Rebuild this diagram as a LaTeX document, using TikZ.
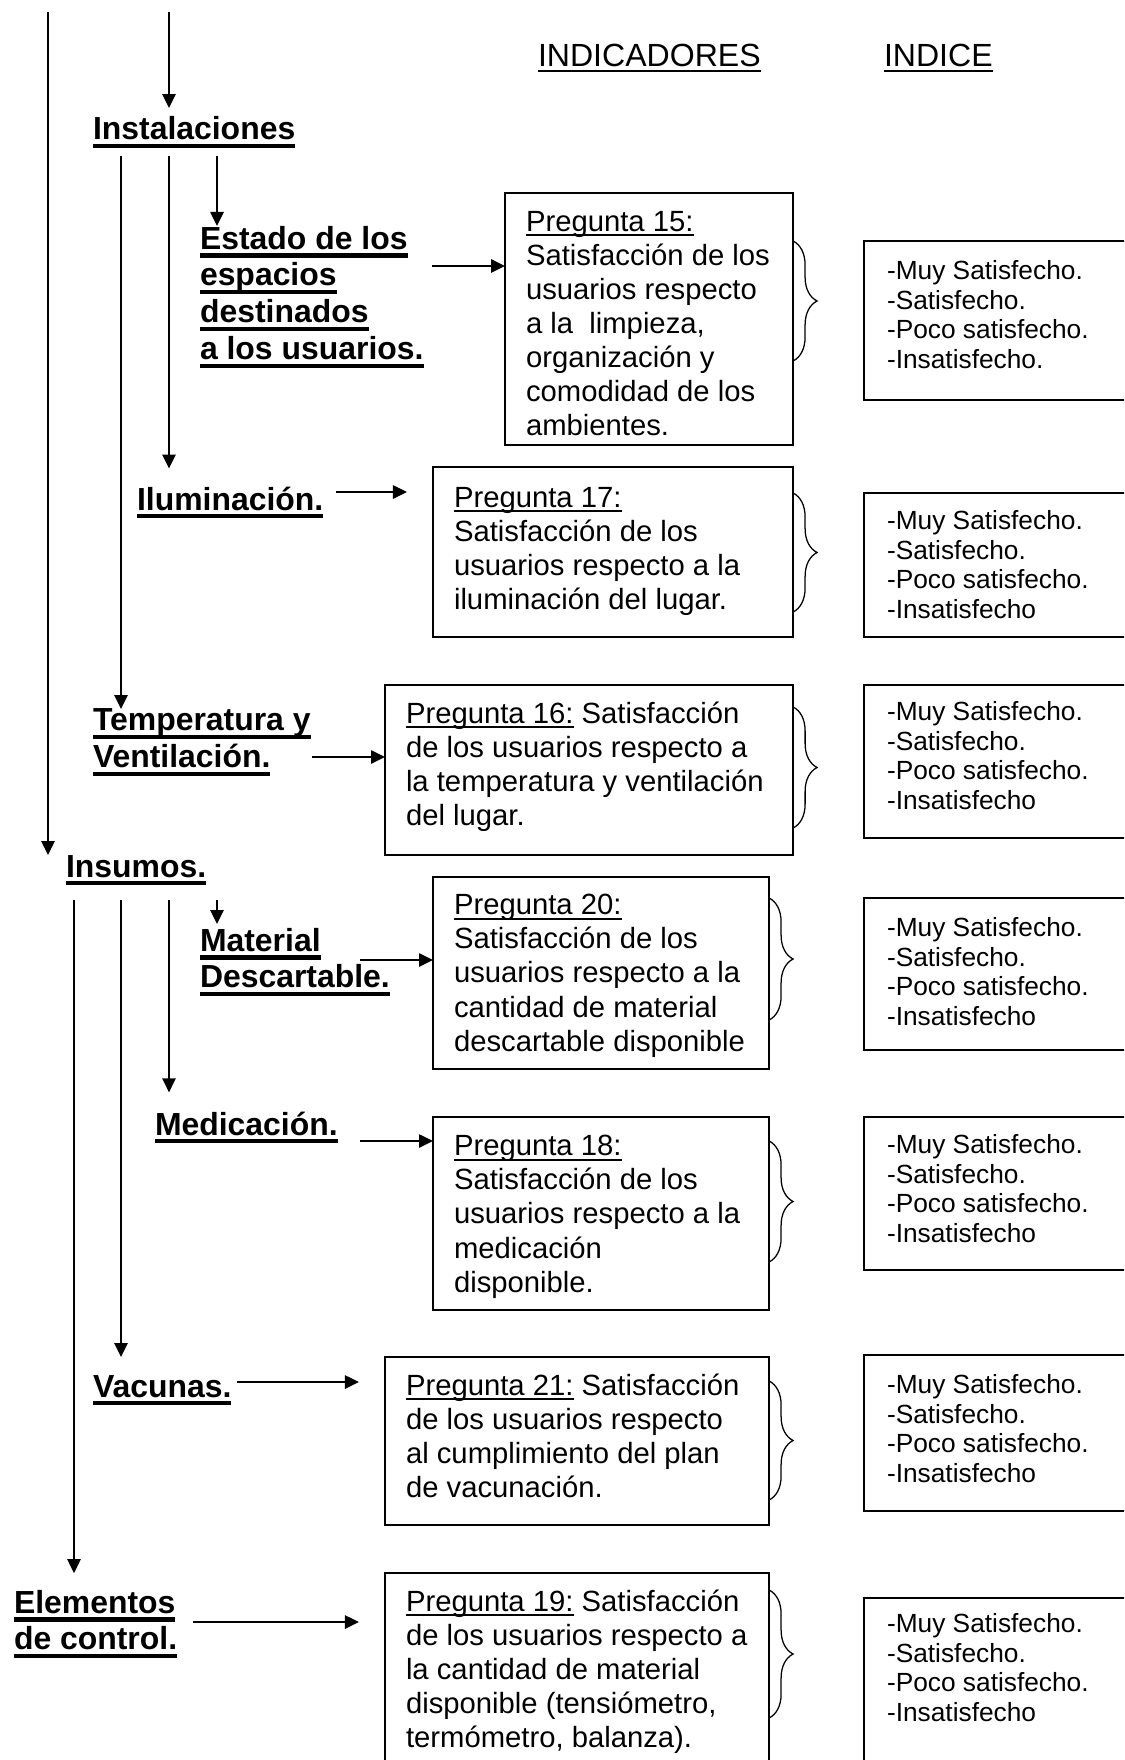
\documentclass[tikz,border=0pt]{standalone}
\usepackage{fontspec}
\setmainfont{Liberation Sans}
\usetikzlibrary{arrows.meta,decorations.pathreplacing}

\newsavebox{\ulbox}
\newcommand{\ulb}[1]{\leavevmode\sbox{\ulbox}{#1}\rlap{\rule[-0.265em]{\wd\ulbox}{0.13em}}\usebox{\ulbox}}
\newcommand{\ult}[1]{\leavevmode\sbox{\ulbox}{#1}\rlap{\rule[-0.16em]{\wd\ulbox}{0.07em}}\usebox{\ulbox}}

\begin{document}
\begin{tikzpicture}[x=0.025cm,y=-0.025cm,
  lbl/.style={inner sep=0,outer sep=0,align=left,font=\fontsize{22.7}{26.2}\selectfont\bfseries},
  head/.style={inner sep=0,outer sep=0,anchor=base west,font=\fontsize{22.8}{26}\selectfont},
  qbox/.style={draw,line width=1.2pt,inner sep=0,outer sep=0,anchor=north west},
  qtxt/.style={inner sep=0,outer sep=0,anchor=north west,align=left,font=\fontsize{20.8}{24.2}\selectfont},
  itxt/.style={inner sep=0,outer sep=0,anchor=north west,align=left,font=\fontsize{18.7}{21.3}\selectfont},
  arr/.style={line width=1.4pt,-{Triangle[length=0.35cm,width=0.33cm]}},
  brc/.style={line width=0.9pt,decorate,decoration={brace,amplitude=0.6cm}}]
\useasboundingbox (0,0) rectangle (1124,1760);
\clip (0,0) rectangle (1124,1760);

\node[head] (hind) at (538,67) {\ult{INDICADORES}};
\node[head] (hidx) at (884,67) {\ult{INDICE}};

\node[lbl,anchor=base west] (inst) at (93,140) {\ulb{Instalaciones}};
\node[lbl,anchor=north west] (estado) at (200,226) {\ulb{Estado de los}\\\ulb{espacios}\\\ulb{destinados}\\\ulb{a los usuarios.}};
\node[lbl,anchor=base west] (ilum) at (137,510) {\ulb{Iluminación.}};
\node[lbl,anchor=north west] (temp) at (93,709) {\ulb{Temperatura y}\\\ulb{Ventilación.}};
\node[lbl,anchor=base west] (insumos) at (66,877) {\ulb{Insumos.}};
\node[lbl,anchor=north west] (material) at (200,928) {\ulb{Material}\\\ulb{Descartable.}};
\node[lbl,anchor=base west] (medic) at (155,1135) {\ulb{Medicación.}};
\node[lbl,anchor=base west] (vacunas) at (93,1397) {\ulb{Vacunas.}};
\node[lbl,anchor=north west] (elem) at (14,1590) {\ulb{Elementos}\\\ulb{de control.}};

\node[qbox,minimum width=7.2cm,minimum height=6.3cm] (q15) at (505,193) {};
\node[qtxt] (t15) at (526,211.5) {\ult{Pregunta 15:}\\Satisfacción de los\\usuarios respecto\\a la\ \ limpieza,\\organización y\\comodidad de los\\ambientes.};
\node[qbox,minimum width=9cm,minimum height=4.25cm] (q17) at (433,467) {};
\node[qtxt] (t17) at (454,487) {\ult{Pregunta 17:}\\Satisfacción de los\\usuarios respecto a la\\iluminación del lugar.};
\node[qbox,minimum width=10.2cm,minimum height=4.25cm] (q16) at (385,685) {};
\node[qtxt] (t16) at (406,701.5) {\ult{Pregunta 16:} Satisfacción\\de los usuarios respecto a\\la temperatura y ventilación\\del lugar.};
\node[qbox,minimum width=8.4cm,minimum height=4.8cm] (q20) at (433,877) {};
\node[qtxt] (t20) at (454,894.5) {\ult{Pregunta 20:}\\Satisfacción de los\\usuarios respecto a la\\cantidad de material\\descartable disponible};
\node[qbox,minimum width=8.4cm,minimum height=4.825cm] (q18) at (433,1117) {};
\node[qtxt] (t18) at (454,1135.5) {\ult{Pregunta 18:}\\Satisfacción de los\\usuarios respecto a la\\medicación\\disponible.};
\node[qbox,minimum width=9.6cm,minimum height=4.2cm] (q21) at (385,1357) {};
\node[qtxt] (t21) at (406,1374) {\ult{Pregunta 21:} Satisfacción\\de los usuarios respecto\\al cumplimiento del plan\\de vacunación.};
\node[qbox,minimum width=9.6cm,minimum height=5.425cm] (q19) at (385,1573) {};
\node[qtxt] (t19) at (406,1590) {\ult{Pregunta 19:} Satisfacción\\de los usuarios respecto a\\la cantidad de material\\disponible (tensiómetro,\\termómetro, balanza).};

\node[qbox,minimum width=7.15cm,minimum height=3.975cm] (i1) at (864,241) {};
\node[itxt] (ti1) at (887,260) {-Muy Satisfecho.\\-Satisfecho.\\-Poco satisfecho.\\-Insatisfecho.};
\node[qbox,minimum width=7.15cm,minimum height=3.6cm] (i2) at (864,493) {};
\node[itxt] (ti2) at (887,510) {-Muy Satisfecho.\\-Satisfecho.\\-Poco satisfecho.\\-Insatisfecho};
\node[qbox,minimum width=7.15cm,minimum height=3.825cm] (i3) at (864,685) {};
\node[itxt] (ti3) at (887,701) {-Muy Satisfecho.\\-Satisfecho.\\-Poco satisfecho.\\-Insatisfecho};
\node[qbox,minimum width=7.15cm,minimum height=3.8cm] (i4) at (864,898) {};
\node[itxt] (ti4) at (887,917) {-Muy Satisfecho.\\-Satisfecho.\\-Poco satisfecho.\\-Insatisfecho};
\node[qbox,minimum width=7.15cm,minimum height=3.825cm] (i5) at (864,1117) {};
\node[itxt] (ti5) at (887,1134) {-Muy Satisfecho.\\-Satisfecho.\\-Poco satisfecho.\\-Insatisfecho};
\node[qbox,minimum width=7.15cm,minimum height=3.9cm] (i6) at (864,1355) {};
\node[itxt] (ti6) at (887,1374) {-Muy Satisfecho.\\-Satisfecho.\\-Poco satisfecho.\\-Insatisfecho};
\node[qbox,minimum width=7.15cm,minimum height=4.8cm] (i7) at (864,1598) {};
\node[itxt] (ti7) at (887,1613) {-Muy Satisfecho.\\-Satisfecho.\\-Poco satisfecho.\\-Insatisfecho};

\coordinate (v1) at (48,12);
\coordinate (v2) at (169,12);
\draw[arr] (v1) -- (v1 |- insumos.north);
\draw[arr,shorten >=0.22cm] (v2) -- (v2 |- inst.north);

\coordinate (w1) at (121,156);
\coordinate (w2) at (169,156);
\coordinate (w3) at (217,156);
\draw[arr] (w1) -- (w1 |- temp.north);
\draw[arr,shorten >=0.45cm] (w2) -- (w2 |- ilum.north);
\draw[arr] (w3) -- (w3 |- estado.north);

\coordinate (u1) at (74,900);
\coordinate (u2) at (121,900);
\coordinate (u3) at (169,900);
\coordinate (u4) at (217,900);
\draw[arr,shorten >=0.42cm] (u1) -- (u1 |- elem.north);
\draw[arr,shorten >=0.45cm] (u2) -- (u2 |- vacunas.north);
\draw[arr,shorten >=0.48cm] (u3) -- (u3 |- medic.north);
\draw[arr,shorten >=0.1cm] (u4) -- (u4 |- material.north);

\coordinate (h15) at (432,266);
\coordinate (h17) at (336,492);
\coordinate (h16) at (312,757);
\coordinate (h20) at (360,960);
\coordinate (h18) at (360,1141);
\coordinate (h21) at (237,1382);
\coordinate (h19) at (193,1622);
\draw[arr] (h15) -- (h15 -| q15.west);
\draw[arr,shorten >=0.65cm] (h17) -- (h17 -| q17.west);
\draw[arr] (h16) -- (h16 -| q16.west);
\draw[arr] (h20) -- (h20 -| q20.west);
\draw[arr] (h18) -- (h18 -| q18.west);
\draw[arr,shorten >=0.65cm] (h21) -- (h21 -| q21.west);
\draw[arr,shorten >=0.65cm] (h19) -- (h19 -| q19.west);

\foreach \q/\a/\b in {q15/241/361,q17/493/612,q16/707/828,q20/898/1020,q18/1141/1262,q21/1381/1500,q19/1590/1718}{
\draw[brc] (\q.east |- 0,\a) -- (\q.east |- 0,\b);
}
\end{tikzpicture}
\end{document}
